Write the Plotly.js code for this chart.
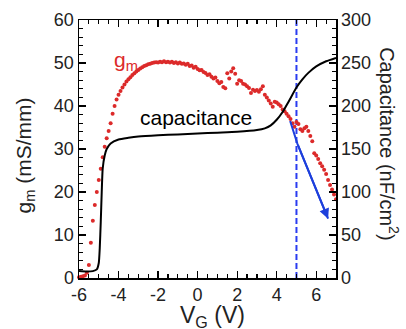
<!DOCTYPE html>
<html>
<head>
<meta charset="utf-8">
<script src="https://cdn.plot.ly/plotly-3.0.1.min.js"></script>
<style>html,body{margin:0;padding:0;background:#fff;}#plot{width:406px;height:329px;}</style>
</head>
<body>
<div id="plot"></div>
<script>
// g_m (mS/mm) vs V_G (V), red dots, left axis
const vgGm = [-6.0,-5.9,-5.8,-5.7,-5.6,-5.5,-5.4,-5.3,-5.2,-5.1,-5.0,-4.9,-4.8,-4.7,-4.6,-4.5,-4.4,-4.3,-4.2,-4.1,
  -4.0,-3.9,-3.8,-3.7,-3.6,-3.5,-3.4,-3.3,-3.2,-3.1,-3.0,-2.9,-2.8,-2.7,-2.6,-2.5,-2.4,-2.3,-2.2,-2.1,
  -2.0,-1.9,-1.8,-1.7,-1.6,-1.5,-1.4,-1.3,-1.2,-1.1,-1.0,-0.9,-0.8,-0.7,-0.6,-0.5,-0.4,-0.3,-0.2,-0.1,
  0.0,0.1,0.2,0.3,0.4,0.5,0.6,0.7,0.8,0.9,1.0,1.1,1.2,1.3,1.4,1.5,1.6,1.7,1.8,1.9,
  2.0,2.1,2.2,2.3,2.4,2.5,2.6,2.7,2.8,2.9,3.0,3.1,3.2,3.3,3.4,3.5,3.6,3.7,3.8,3.9,
  4.0,4.1,4.2,4.3,4.4,4.5,4.6,4.7,4.8,4.9,5.0,5.1,5.2,5.3,5.4,5.5,5.6,5.7,5.8,5.9,
  6.0,6.1,6.2,6.3,6.4,6.5,6.6,6.7,6.8,6.9,7.0];
const gm = [0.2,0.3,0.4,0.6,1.2,3.0,8.2,13.3,17.0,20.0,22.8,25.4,28.1,30.5,32.5,34.2,36.0,38.2,40.0,41.5,
  42.6,43.5,44.3,45.0,45.7,46.2,46.7,47.2,47.6,48.0,48.4,48.7,49.0,49.3,49.5,49.7,49.8,50.0,50.1,50.2,
  50.1,50.3,50.2,50.4,50.2,50.3,50.1,50.3,50.0,50.2,49.9,50.1,49.8,49.9,49.6,49.8,49.3,49.4,48.9,49.1,
  48.6,48.3,48.4,47.9,47.7,47.2,47.4,46.8,46.4,46.6,45.8,45.3,45.6,44.4,44.1,47.6,46.4,48.0,48.8,47.5,
  45.2,46.0,45.8,45.2,45.0,44.6,44.2,43.0,43.8,43.5,43.7,43.3,43.9,44.6,42.6,42.0,41.3,40.6,39.8,41.0,
  40.8,40.4,40.0,39.2,38.8,38.2,37.6,37.0,36.0,35.2,36.3,35.8,34.6,34.2,34.8,35.2,34.2,33.0,31.8,29.0,
  28.5,27.7,26.7,26.0,25.2,24.2,22.8,21.6,20.6,19.4,18.3];

// Capacitance (nF/cm^2) vs V_G, black line, right axis
const vgCap = [-6.0,-5.6,-5.3,-5.1,-5.0,-4.95,-4.9,-4.85,-4.8,-4.7,-4.6,-4.4,-4.0,-3.5,-3.0,-2.0,-1.0,0.0,1.0,2.0,
  3.0,3.4,3.7,4.0,4.3,4.6,5.0,5.3,5.6,6.0,6.5,7.0];
const cap = [8,7.5,8,10,17.5,35,65,100,127.5,142.5,150,156.5,161,163,164.5,166,167,168,169,170,
  172,174,177.5,184,193,205,221.5,231,238.5,246,252,256];

// Blue arrow (g_m trend), left axis
const vgArrow = [4.68, 5.05, 6.6];
const gmArrow = [36.5, 31.2, 13.8];

// Blue dashed marker line
const vgMark = [5, 5];
const gmMark = [0, 60];

// Tick labels
const xTickVals = [-6,-4,-2,0,2,4,6];
const xTickText = ['-6','-4','-2','0','2','4','6'];

const FONT = 'Liberation Sans, Arial, Helvetica, sans-serif';
const RED = '#dc2a2a';
const BLUE = '#1d3fdc';

const traces = [
  {x: vgMark, y: gmMark, mode: 'lines', line: {color: '#2a3cf0', width: 2, dash: '6px,3px'}, hoverinfo: 'skip'},
  {x: vgCap, y: cap, yaxis: 'y2', mode: 'lines', line: {color: '#000', width: 2, shape: 'spline', smoothing: 0.6}},
  {x: vgGm, y: gm, mode: 'markers', marker: {color: RED, size: 4}, cliponaxis: false},
  {x: vgArrow, y: gmArrow, mode: 'lines', line: {color: BLUE, width: 2}}
];

const n = vgArrow.length;
const axisCommon = {
  showline: true, linecolor: '#000', linewidth: 1.5, ticks: 'inside', ticklen: 7, tickwidth: 1.3,
  tickcolor: '#000', showgrid: false, zeroline: false,
  tickfont: {family: FONT, size: 18, color: '#222'}
};

const layout = {
  width: 406, height: 329,
  margin: {l: 79, r: 70, t: 20, b: 51},
  paper_bgcolor: '#fff', plot_bgcolor: '#fff',
  showlegend: false,
  font: {family: FONT, color: '#222'},
  xaxis: Object.assign({}, axisCommon, {
    range: [-6, 7], tickmode: 'array', tickvals: xTickVals, ticktext: xTickText, mirror: 'ticks',
    minor: {dtick: 0.5, tick0: 0, ticks: 'inside', ticklen: 4, tickwidth: 1.2, tickcolor: '#000'}
  }),
  yaxis: Object.assign({}, axisCommon, {
    range: [0, 60], dtick: 10, tick0: 0,
    minor: {dtick: 2, ticks: 'inside', ticklen: 4, tickwidth: 1.2, tickcolor: '#000'}
  }),
  yaxis2: Object.assign({}, axisCommon, {
    range: [0, 300], dtick: 50, tick0: 0, overlaying: 'y', side: 'right',
    minor: {dtick: 10, ticks: 'inside', ticklen: 4, tickwidth: 1.2, tickcolor: '#000'}
  }),
  annotations: [
    {x: vgArrow[n-1], y: gmArrow[n-1], ax: vgArrow[n-2], ay: gmArrow[n-2], xref: 'x', yref: 'y', axref: 'x', ayref: 'y',
     text: '', showarrow: true, arrowhead: 2, arrowsize: 1, arrowwidth: 2, arrowcolor: BLUE, standoff: 0},
    {x: -3.6, y: 50.5, xref: 'x', yref: 'y', text: 'g<sub>m</sub>', showarrow: false,
     font: {family: FONT, size: 21, color: RED}},
    {x: -0.1, y: 37.4, xref: 'x', yref: 'y', text: 'capacitance', showarrow: false,
     font: {family: FONT, size: 21, color: '#000'}},
    {x: 0.52, y: -0.085, xref: 'paper', yref: 'paper', xanchor: 'center', yanchor: 'top', text: 'V<sub>G</sub> (V)', showarrow: false,
     font: {family: FONT, size: 23, color: '#222'}},
    {x: -0.21, y: 0.475, xref: 'paper', yref: 'paper', xanchor: 'center', yanchor: 'middle', text: 'g<sub>m</sub> (mS/mm)', showarrow: false, textangle: -90,
     font: {family: FONT, size: 21, color: '#222'}},
    {x: 1.205, y: 0.52, xref: 'paper', yref: 'paper', xanchor: 'center', yanchor: 'middle', text: 'Capacitance (nF/cm<sup>2</sup>)', showarrow: false, textangle: 90,
     font: {family: FONT, size: 20, color: '#222'}}
  ]
};

Plotly.newPlot('plot', traces, layout, {staticPlot: true, displayModeBar: false});
</script>
</body>
</html>
